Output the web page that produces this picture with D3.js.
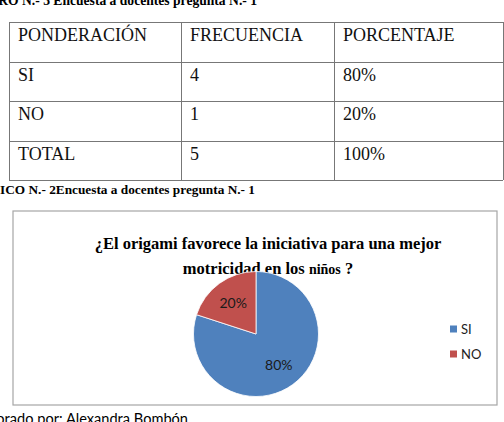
<!DOCTYPE html>
<html>
<head>
<meta charset="utf-8">
<script src="https://cdn.jsdelivr.net/npm/d3@7"></script>
<style>
  body { margin: 0; background: #fff; }
  svg { display: block; }
</style>
</head>
<body>
<svg id="chart" width="504" height="422"></svg>
<script>
const categories = ["SI", "NO"];
const frecuencia = [4, 1];
const porcentaje = [80, 20];
const headers = ["PONDERACIÓN", "FRECUENCIA", "PORCENTAJE"];
const colors = ["#4f81bd", "#c0504d"];

const svg = d3.select("#chart");
const serif = "'Liberation Serif', 'Times New Roman', serif";
const sans = "Lato, 'Open Sans', sans-serif";

// captions cut at the page edges
svg.append("text")
  .attr("x", 257).attr("y", 5)
  .attr("text-anchor", "end")
  .style("font", `bold 13.6px ${serif}`)
  .text("CUADRO N.- 3 Encuesta a docentes pregunta N.- 1");

svg.append("text")
  .attr("x", 255).attr("y", 194)
  .attr("text-anchor", "end")
  .style("font", `bold 13.3px ${serif}`)
  .text("GRÁFICO N.- 2Encuesta a docentes pregunta N.- 1");

svg.append("text")
  .attr("x", 188).attr("y", 424)
  .attr("text-anchor", "end")
  .style("font", `14.6px ${sans}`)
  .text("Elaborado por: Alexandra Bombón");

// table
const total = d3.sum(frecuencia);
const rows = [headers]
  .concat(categories.map((c, i) => [c, String(frecuencia[i]), porcentaje[i] + "%"]))
  .concat([["TOTAL", String(total), d3.sum(porcentaje) + "%"]]);

const colX = [9, 181, 334, 503];
const rowY = [22, 62, 101, 141, 180];
const table = svg.append("g");

rowY.forEach((y) => {
  table.append("line")
    .attr("x1", colX[0]).attr("x2", colX[3])
    .attr("y1", y + 0.5).attr("y2", y + 0.5)
    .attr("stroke", "#777");
});
colX.forEach((x) => {
  table.append("line")
    .attr("x1", x + 0.5).attr("x2", x + 0.5)
    .attr("y1", rowY[0]).attr("y2", rowY[4])
    .attr("stroke", "#777");
});
rows.forEach((r, ri) => {
  r.forEach((cell, ci) => {
    table.append("text")
      .attr("x", colX[ci] + 9)
      .attr("y", rowY[ri] + 18.5)
      .style("font", `18px ${serif}`)
      .attr("fill", "#111")
      .text(cell);
  });
});

// chart box
svg.append("rect")
  .attr("x", 13).attr("y", 211)
  .attr("width", 484).attr("height", 194)
  .attr("fill", "#fff")
  .attr("stroke", "#a6a6a6")
  .attr("stroke-width", 1.2);

const title = svg.append("text")
  .attr("text-anchor", "middle")
  .style("font", `bold 16.5px ${serif}`)
  .attr("fill", "#000");
title.append("tspan").attr("x", 268).attr("y", 249)
  .text("¿El origami favorece la iniciativa para una mejor");
const t2 = title.append("tspan").attr("x", 268).attr("y", 274);
t2.append("tspan").text("motricidad en los ");
t2.append("tspan").style("font-size", "14px").text("niños");
t2.append("tspan").text(" ?");

// pie
const cx = 256, cy = 334, r = 62.5;
const pie = d3.pie().sort(null).value((d) => d.v);
const data = categories.map((c, i) => ({ c, v: frecuencia[i], p: porcentaje[i] }));
const arcs = pie(data);
const arc = d3.arc().innerRadius(0).outerRadius(r);
const labelArc = d3.arc().innerRadius(r * 0.62).outerRadius(r * 0.62);

const g = svg.append("g").attr("transform", `translate(${cx},${cy})`);
g.selectAll("path")
  .data(arcs)
  .join("path")
  .attr("d", arc)
  .attr("fill", (d, i) => colors[i])
  .attr("stroke", "#fff")
  .attr("stroke-width", 0.8);

g.selectAll("text.lbl")
  .data(arcs)
  .join("text")
  .attr("class", "lbl")
  .attr("transform", (d) => `translate(${labelArc.centroid(d)})`)
  .attr("text-anchor", "middle")
  .attr("dy", "0.35em")
  .style("font", `14px ${sans}`)
  .attr("fill", "#1a1a1a")
  .text((d) => d.data.p + "%");

// legend
const legend = svg.append("g").attr("transform", "translate(450,329)");
categories.forEach((c, i) => {
  const lg = legend.append("g").attr("transform", `translate(0,${i * 25})`);
  lg.append("rect")
    .attr("x", 0).attr("y", -3.5)
    .attr("width", 7).attr("height", 7)
    .attr("fill", colors[i]);
  lg.append("text")
    .attr("x", 11).attr("y", 0)
    .attr("dy", "0.35em")
    .style("font", `13px ${sans}`)
    .attr("fill", "#222")
    .text(c);
});
</script>
</body>
</html>
